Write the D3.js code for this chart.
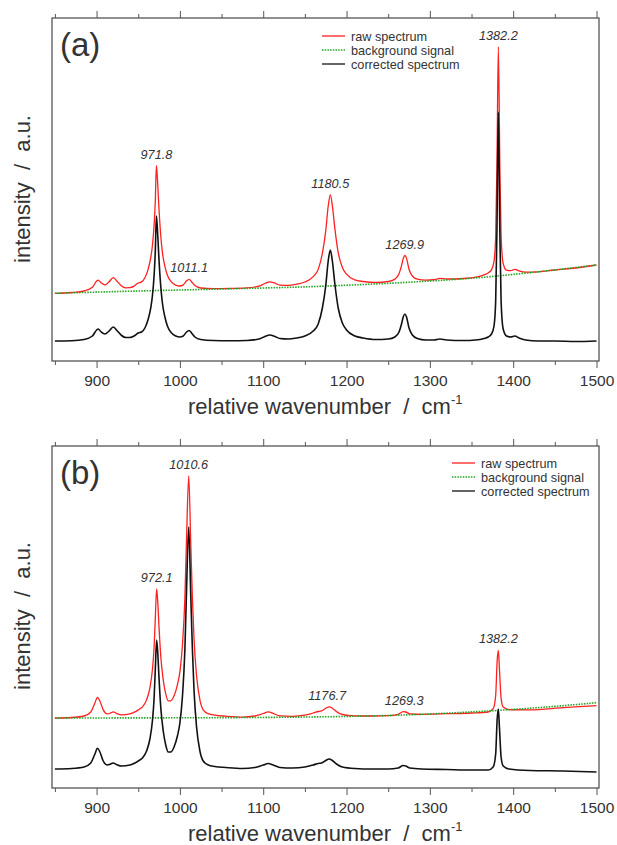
<!DOCTYPE html>
<html>
<head>
<meta charset="utf-8">
<script src="https://cdn.jsdelivr.net/npm/d3@7"></script>
<style>
  body { margin: 0; background: #fff; }
  svg text { font-family: "Liberation Sans", Arial, sans-serif; fill: #333; }
</style>
</head>
<body>
<svg id="chart" width="617" height="845"></svg>
<script>
// ---- panel (a) ----
var wavenumberA = [850, 870, 885, 895, 900, 902, 905, 910, 915, 920, 925, 930, 935, 940, 945, 950, 954, 958, 962, 965,
    967, 969, 970.5, 971.8, 973, 975, 977, 979, 982, 985, 990, 995, 1000, 1004, 1008, 1011, 1014, 1018, 1025, 1040,
    1060, 1080, 1095, 1102, 1108, 1114, 1120, 1130, 1140, 1150, 1160, 1166, 1171, 1175, 1178, 1180.5, 1183, 1186, 1190, 1195,
    1200, 1210, 1220, 1235, 1250, 1258, 1263, 1266, 1268, 1270, 1272, 1275, 1279, 1285, 1295, 1305, 1312, 1320, 1340, 1355,
    1365, 1370, 1374, 1377, 1379, 1380.5, 1382.2, 1384, 1385.5, 1388, 1392, 1397, 1402, 1407, 1415, 1430, 1450, 1475, 1500];
var rawA = [47.7, 48.5, 50.0, 53.7, 59.9, 60.9, 58.5, 56.1, 59.2, 63.3, 59.4, 55.0, 53.2, 53.3, 54.9, 58, 59.1, 63.2, 72.2, 83.3,
    95.3, 115.4, 140.4, 175.4, 162.5, 130.5, 105.5, 88.6, 74.6, 65.7, 58.8, 55.9, 55, 56.1, 60.2, 61.7, 59.3, 55.4, 53, 52.3,
    52.5, 53.1, 54.9, 57.5, 59.2, 57.8, 55.9, 55.6, 56.8, 59, 64.4, 71.6, 87.7, 109.9, 135, 146.1, 135.2, 112.3, 88.4, 73.6,
    66.8, 61.1, 59.5, 58.5, 59.5, 61.9, 67.2, 75.3, 82.4, 85.5, 82.6, 71.8, 65, 61.8, 60.8, 61.3, 62.6, 62, 62.5, 63.9,
    66.2, 68.1, 71.4, 79.7, 104.8, 174.9, 294.1, 175.2, 105.3, 77.5, 70.9, 70.3, 71.7, 70.1, 68.9, 69.2, 71, 73, 76];
var correctedA = [0, 0.3, 1.5, 5, 11, 12, 9.5, 7, 10, 14, 10, 5.5, 3.5, 3.5, 5, 8, 9, 13, 22, 33,
    45, 65, 90, 125, 112, 80, 55, 38, 24, 15, 8, 5, 4, 5, 9, 10.5, 8, 4, 1.5, 0.5,
    0.3, 0.5, 2, 4.5, 6, 4.5, 2.5, 2, 3, 5, 10, 17, 33, 55, 80, 91, 80, 57, 33, 18,
    11, 5, 3, 1.5, 2, 4, 9, 17, 24, 27, 24, 13, 6, 2.5, 1, 1, 2, 1, 0.5, 1,
    2.5, 4, 7, 15, 40, 110, 229, 110, 40, 12, 5, 4, 5, 3, 1, 0, 0, -0.5, 0];
var bgWavenumberA = [850, 900, 950, 1000, 1050, 1100, 1150, 1200, 1250, 1300, 1350, 1400, 1450, 1500];
var backgroundA = [47.7, 48.9, 50, 51, 52, 53, 54, 55.8, 57.5, 60, 62.5, 66.5, 71, 76];
var peaksA = [971.8, 1011.1, 1180.5, 1269.9, 1382.2];

// ---- panel (b) ----
var wavenumberB = [850, 870, 885, 893, 898, 901, 904, 908, 913, 917, 920, 924, 930, 940, 946, 950, 955, 960, 964, 967,
    969, 970.5, 972.1, 973.5, 975, 977, 980, 983, 986, 989, 993, 997, 1000, 1003, 1006, 1008, 1010.6, 1013, 1015, 1017,
    1020, 1024, 1028, 1034, 1042, 1055, 1075, 1090, 1100, 1106, 1112, 1120, 1135, 1150, 1160, 1166, 1170, 1175, 1179, 1183,
    1188, 1195, 1210, 1230, 1250, 1262, 1268, 1271, 1276, 1290, 1320, 1350, 1370, 1376, 1379, 1380.8, 1382.2, 1383.6, 1385.5, 1388,
    1395, 1420, 1460, 1500];
var rawB = [51, 51.5, 53, 57, 66, 71.7, 68, 59.1, 55.1, 56.1, 57.1, 55.6, 54.1, 55.1, 57.1, 59.1, 62.1, 69.1, 81.1, 99.1,
    121.1, 151.1, 180.1, 166.1, 141.1, 113.1, 89.2, 75.2, 68.2, 68.2, 73.2, 84.2, 97.2, 123.2, 171.2, 231.2, 293.2, 226.2, 171.2, 129.2,
    93.2, 69.2, 59.2, 55.3, 53.8, 52.8, 51.9, 53, 55.5, 57.1, 55.6, 53.1, 52.7, 53.8, 56, 57.5, 58.1, 60.7, 62.2, 60.8,
    57.4, 54.5, 53.2, 53, 53.3, 54.7, 57.4, 57, 55.2, 54.7, 55.3, 56, 57, 60.3, 73.5, 108.5, 118.6, 98.7, 70.8, 61.9,
    59.3, 59.2, 61.3, 63.3];
var correctedB = [0, 0.5, 2, 6, 15, 20.7, 17, 8, 4, 5, 6, 4.5, 3, 4, 6, 8, 11, 18, 30, 48,
    70, 100, 129, 115, 90, 62, 38, 24, 17, 17, 22, 33, 46, 72, 120, 180, 242, 175, 120, 78,
    42, 18, 8, 4, 2.5, 1.5, 0.5, 1.5, 4, 5.5, 4, 1.5, 1, 2, 4, 5.5, 6, 8.5, 10, 8.5,
    5, 2, 0.5, 0, 0, 1, 3.5, 3, 1, 0, -0.5, -1, -1, 2, 15, 50, 60, 40, 12, 3,
    0, -1.5, -2, -3];
var bgWavenumberB = [850, 950, 1050, 1150, 1250, 1300, 1350, 1400, 1450, 1500];
var backgroundB = [51, 51.1, 51.3, 51.8, 53.3, 55, 57, 59.5, 62.5, 66.3];
var peaksB = [972.1, 1010.6, 1176.7, 1269.3, 1382.2];

var legendLabels = ["raw spectrum", "background signal", "corrected spectrum"];
var majorTicks = [900, 1000, 1100, 1200, 1300, 1400, 1500];
var minorTicks = [850, 950, 1050, 1150, 1250, 1350, 1450];

var svg = d3.select("#chart");
var left = 52, right = 599;
var x = d3.scaleLinear().domain([846.5, 1503]).range([left, right]);

function drawPanel(p) {
    var y = d3.scaleLinear().domain(p.yDomain).range([p.bottom, p.top]);
    var g = svg.append("g").attr("class", "panel");

    g.append("clipPath").attr("id", "clip" + p.id)
        .append("rect")
        .attr("x", left).attr("y", p.top)
        .attr("width", right - left).attr("height", p.bottom - p.top);

    var line = d3.line()
        .x(function (d) { return x(d[0]); })
        .y(function (d) { return y(d[1]); })
        .curve(d3.curveMonotoneX);
    var smooth = d3.line()
        .x(function (d) { return x(d[0]); })
        .y(function (d) { return y(d[1]); })
        .curve(d3.curveBasis);

    var plot = g.append("g").attr("clip-path", "url(#clip" + p.id + ")");

    plot.append("path")
        .datum(d3.zip(p.wn, p.raw))
        .attr("d", line)
        .attr("fill", "none")
        .attr("stroke", "#ff2020")
        .attr("stroke-width", 1.3);

    plot.append("path")
        .datum(d3.zip(p.bgWn, p.bg))
        .attr("d", smooth)
        .attr("fill", "none")
        .attr("stroke", "#22a522")
        .attr("stroke-width", 1.6)
        .attr("stroke-dasharray", "1.5,1.2");

    plot.append("path")
        .datum(d3.zip(p.wn, p.corrected))
        .attr("d", line)
        .attr("fill", "none")
        .attr("stroke", "#111")
        .attr("stroke-width", 1.6);

    // axes: ticks outward on top and bottom, labels only at bottom
    var bottomMajor = g.append("g").attr("transform", "translate(0," + p.bottom + ")")
        .call(d3.axisBottom(x).tickValues(majorTicks).tickSize(7).tickPadding(7).tickFormat(d3.format("d")));
    g.append("g").attr("transform", "translate(0," + p.bottom + ")")
        .call(d3.axisBottom(x).tickValues(minorTicks).tickSize(4).tickFormat(""));
    g.append("g").attr("transform", "translate(0," + p.top + ")")
        .call(d3.axisTop(x).tickValues(majorTicks).tickSize(7).tickFormat(""));
    g.append("g").attr("transform", "translate(0," + p.top + ")")
        .call(d3.axisTop(x).tickValues(minorTicks).tickSize(4).tickFormat(""));
    g.selectAll(".domain").remove();
    g.selectAll(".tick line").attr("stroke", "#555").attr("stroke-width", 1);
    bottomMajor.selectAll("text").attr("font-size", 15.5).attr("fill", "#333")
        .style("font-family", '"Liberation Sans", Arial, sans-serif');

    g.append("rect")
        .attr("x", left).attr("y", p.top)
        .attr("width", right - left).attr("height", p.bottom - p.top)
        .attr("fill", "none")
        .attr("stroke", "#555")
        .attr("stroke-width", 1.3);

    // peak labels above the raw spectrum
    p.peaks.forEach(function (pk) {
        var near = p.wn.map(function (w, i) { return Math.abs(w - pk) < 4 ? p.raw[i] : -Infinity; });
        g.append("text")
            .attr("x", x(pk))
            .attr("y", y(d3.max(near)) - 7)
            .attr("text-anchor", "middle")
            .attr("font-size", 12.7)
            .attr("font-style", "italic")
            .text(pk.toFixed(1));
    });

    // legend
    var colors = ["#ff2020", "#22a522", "#111"];
    legendLabels.forEach(function (lab, i) {
        var ly = p.legendY + i * 14;
        g.append("line")
            .attr("x1", p.legendX).attr("x2", p.legendX + 23)
            .attr("y1", ly).attr("y2", ly)
            .attr("stroke", colors[i])
            .attr("stroke-width", i == 1 ? 1.6 : 1.3)
            .attr("stroke-dasharray", i == 1 ? "1.5,1.2" : null);
        g.append("text")
            .attr("x", p.legendX + 29).attr("y", ly + 4.5)
            .attr("font-size", 12.7)
            .text(lab);
    });

    g.append("text")
        .attr("x", 60).attr("y", p.top + 38)
        .attr("font-size", 33)
        .text(p.name);

    g.append("text")
        .attr("transform", "translate(29.5," + p.yTitleY + ") rotate(-90)")
        .attr("text-anchor", "middle")
        .attr("font-size", 22)
        .style("white-space", "pre")
        .text("intensity  /  a.u.");

    var xt = g.append("text")
        .attr("x", 188).attr("y", p.bottom + 53)
        .attr("font-size", 22)
        .style("white-space", "pre");
    xt.append("tspan").text("relative wavenumber  /  cm");
    xt.append("tspan").attr("dy", -10).attr("font-size", 13).text("-1");
}

drawPanel({id: "a", name: "(a)", top: 18, bottom: 361, yDomain: [-20, 323],
    wn: wavenumberA, raw: rawA, corrected: correctedA, bgWn: bgWavenumberA, bg: backgroundA,
    peaks: peaksA, legendX: 322, legendY: 36, yTitleY: 189});
drawPanel({id: "b", name: "(b)", top: 446, bottom: 788, yDomain: [-19, 323],
    wn: wavenumberB, raw: rawB, corrected: correctedB, bgWn: bgWavenumberB, bg: backgroundB,
    peaks: peaksB, legendX: 452, legendY: 463, yTitleY: 616});
</script>
</body>
</html>
